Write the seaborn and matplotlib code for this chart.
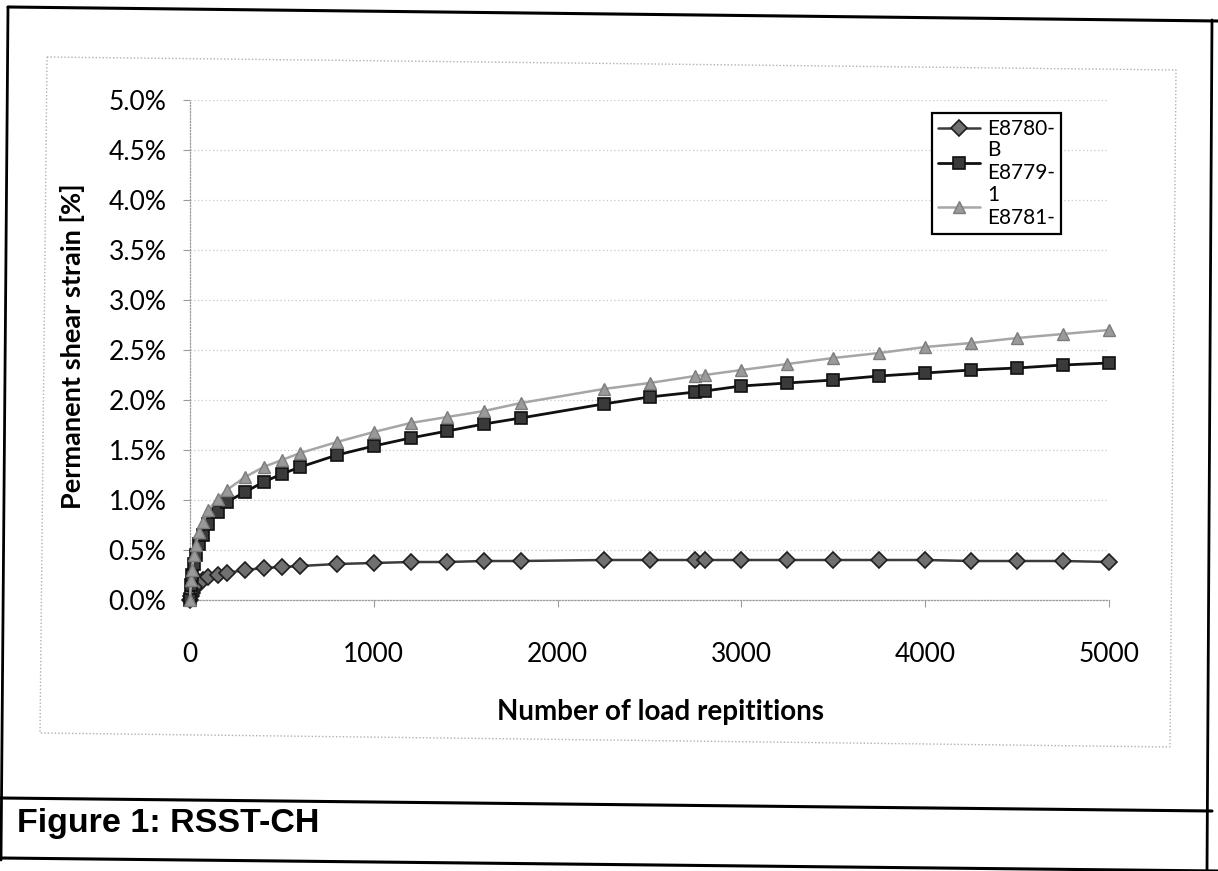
import pandas as pd
import numpy as np
import seaborn as sns
import matplotlib.pyplot as plt
from matplotlib.lines import Line2D
from matplotlib.patches import Polygon
from matplotlib.ticker import PercentFormatter, MultipleLocator

# load repetitions and permanent shear strain [%]
reps = [0, 5, 10, 20, 30, 50, 70, 100, 150, 200, 300, 400, 500, 600, 800,
        1000, 1200, 1400, 1600, 1800, 2250, 2500, 2750, 2800, 3000, 3250,
        3500, 3750, 4000, 4250, 4500, 4750, 5000]

e8780_b = [0.00, 0.04, 0.07, 0.11, 0.14, 0.18, 0.20, 0.23, 0.25, 0.27, 0.30,
           0.32, 0.33, 0.34, 0.36, 0.37, 0.38, 0.38, 0.39, 0.39, 0.40, 0.40,
           0.40, 0.40, 0.40, 0.40, 0.40, 0.40, 0.40, 0.39, 0.39, 0.39, 0.38]

e8779_1 = [0.00, 0.15, 0.25, 0.36, 0.45, 0.56, 0.65, 0.76, 0.88, 0.98, 1.08,
           1.18, 1.26, 1.33, 1.45, 1.54, 1.62, 1.69, 1.76, 1.82, 1.96, 2.03,
           2.08, 2.09, 2.14, 2.17, 2.20, 2.24, 2.27, 2.30, 2.32, 2.35, 2.37]

e8781 = [0.00, 0.20, 0.30, 0.45, 0.55, 0.68, 0.78, 0.90, 1.01, 1.10, 1.23,
         1.33, 1.40, 1.47, 1.58, 1.68, 1.77, 1.83, 1.89, 1.97, 2.11, 2.17,
         2.24, 2.25, 2.30, 2.36, 2.42, 2.47, 2.53, 2.57, 2.62, 2.66, 2.70]

# legend text is wrapped in the original box ("E8780-" / "B" / "E8779-" / "1" / "E8781-")
legend_labels = ["E8780-", "B\nE8779-", "1\nE8781-"]

x_ticks = [0, 1000, 2000, 3000, 4000, 5000]

sns.set_style("white")
plt.rcParams["font.family"] = ["Lato", "DejaVu Sans"]
plt.rcParams["text.color"] = "black"
plt.rcParams["axes.labelcolor"] = "black"

W, H = 1218, 871
fig = plt.figure(figsize=(W / 100, H / 100), dpi=100)
ax = fig.add_axes([190 / W, 1 - 600 / H, (1109 - 190) / W, 500 / H])

styles = [
    dict(color="#3c3c3c", marker="D", markersize=8, markerfacecolor="#707070",
         markeredgecolor="#1e1e1e", markeredgewidth=1.2, linewidth=1.8),
    dict(color="#101010", marker="s", markersize=8.5, markerfacecolor="#3a3a3a",
         markeredgecolor="#101010", markeredgewidth=1.2, linewidth=2.0),
    dict(color="#a6a6a6", marker="^", markersize=9, markerfacecolor="#9a9a9a",
         markeredgecolor="#7c7c7c", markeredgewidth=1.0, linewidth=1.8),
]

for vals, st in zip([e8780_b, e8779_1, e8781], styles):
    sns.lineplot(x=reps, y=vals, ax=ax, clip_on=False, zorder=3, **st)

ax.set_xlim(0, 5000)
ax.set_ylim(0, 5)
ax.set_xticks(x_ticks)
ax.yaxis.set_major_locator(MultipleLocator(0.5))
ax.yaxis.set_major_formatter(PercentFormatter(xmax=100, decimals=1))

ax.yaxis.grid(True, color="#c8c8c8", linestyle=(0, (1, 2)), linewidth=0.9)
ax.xaxis.grid(False)
for side in ["top", "right"]:
    ax.spines[side].set_visible(False)
for side in ["left", "bottom"]:
    ax.spines[side].set_color("#9a9a9a")
    ax.spines[side].set_linestyle((0, (1, 1.5)))
    ax.spines[side].set_linewidth(0.9)

ax.tick_params(axis="y", direction="out", length=5, width=0.8, color="#9a9a9a",
               labelcolor="black", labelsize=19, pad=12, left=True)
ax.tick_params(axis="x", direction="out", length=5, width=0.8, color="#9a9a9a",
               labelcolor="black", labelsize=19, pad=25, bottom=True)

ax.set_xlabel("Number of load repititions", fontsize=20, fontweight="bold")
ax.set_ylabel("Permanent shear strain [%]", fontsize=19.5, fontweight="bold")
ax.xaxis.set_label_coords(0.512, -0.197)
ax.yaxis.set_label_coords(-0.1143, 0.508)

handles = [Line2D([], [], **st) for st in styles]
leg = ax.legend(handles, legend_labels, loc="upper left",
                bbox_to_anchor=(932 / W, 1 - 113 / H), bbox_transform=fig.transFigure,
                borderaxespad=0, frameon=True, fancybox=False, framealpha=1,
                edgecolor="black", fontsize=15, borderpad=0.3, labelspacing=0.05,
                handlelength=2.0, handletextpad=0.35)
leg.get_frame().set_linewidth(1.6)


def fig_line(p0, p1, **kw):
    fig.add_artist(Line2D([p0[0] / W, p1[0] / W], [1 - p0[1] / H, 1 - p1[1] / H],
                          transform=fig.transFigure, **kw))


# scanned page frame and chart area border
fig_line((8, 7), (1218, 21), color="black", linewidth=2.2)
fig_line((8, 7), (1, 860), color="black", linewidth=2.0)
fig_line((1212, 20), (1207, 871), color="black", linewidth=2.0)
fig_line((0, 798), (1212, 811), color="black", linewidth=2.2)
fig_line((0, 858), (1218, 871), color="black", linewidth=2.2)

corners = [(47, 57), (1176, 70), (1170, 747), (40, 733)]
fig.add_artist(Polygon([(x / W, 1 - y / H) for x, y in corners], closed=True,
                       fill=False, edgecolor="#b0b0b0", linestyle=(0, (1, 1.5)),
                       linewidth=1.0, transform=fig.transFigure))

fig.text(17 / W, 1 - 823 / H, "Figure 1: RSST-CH", fontsize=24.5, fontweight="bold",
         family=["Liberation Sans", "DejaVu Sans"], va="center", ha="left")

fig.savefig("out.png", dpi=100)
